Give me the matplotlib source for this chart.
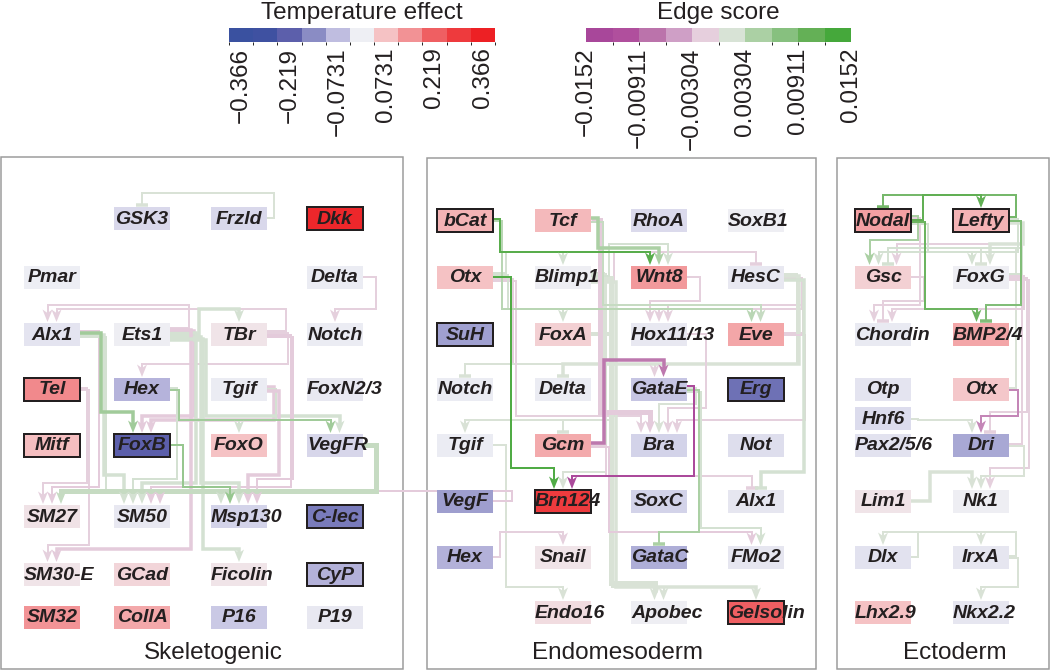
import numpy as np
import matplotlib
matplotlib.use("Agg")
import matplotlib.pyplot as plt
from collections import defaultdict
from matplotlib.colors import ListedColormap, BoundaryNorm, LinearSegmentedColormap, Normalize
from matplotlib.cm import ScalarMappable
from matplotlib.patches import Rectangle, Polygon

plt.rcParams["font.family"] = ["Liberation Sans", "DejaVu Sans"]

# ---- colour scales ----
temp_colors = ["#3a51a0", "#3f51a1", "#5c5fab", "#8a8cc4", "#bfbde0", "#eeeff4",
               "#f5c2c4", "#f29295", "#ef5f62", "#ee3a3d", "#ed2024"]
temp_ticks = [-0.366, -0.219, -0.0731, 0.0731, 0.219, 0.366]
temp_labels = ["\u22120.366", "\u22120.219", "\u22120.0731", "0.0731", "0.219", "0.366"]
edge_colors = ["#a8479a", "#b04f9d", "#bb73ab", "#cf9fc6", "#e6cfdd",
               "#d8e3d6", "#abd0a4", "#87c07f", "#64b056", "#45a83b"]
edge_ticks = [-0.0152, -0.00911, -0.00304, 0.00304, 0.00911, 0.0152]
edge_labels = ["\u22120.0152", "\u22120.00911", "\u22120.00304", "0.00304", "0.00911", "0.0152"]

# ---- nodes (temperature effect) ----
sk_nodes = ["GSK3", "Frzld", "Dkk", "Pmar", "Delta", "Alx1", "Ets1", "TBr", "Notch",
            "Tel", "Hex", "Tgif", "FoxN2/3", "Mitf", "FoxB", "FoxO", "VegFR",
            "SM27", "SM50", "Msp130", "C-lec", "SM30-E", "GCad", "Ficolin", "CyP",
            "SM32", "CollA", "P16", "P19"]
sk_temp = [-0.035, -0.035, 0.38, -0.002, -0.005, -0.018, 0.002, 0.02, -0.005,
           0.175, -0.095, -0.006, -0.012, 0.085, -0.24, 0.08, -0.04,
           0.025, -0.012, -0.045, -0.19, 0.02, 0.045, 0.02, -0.10,
           0.16, 0.125, -0.062, -0.012]
sk_boxed = ["Dkk", "Tel", "Mitf", "FoxB", "C-lec", "CyP"]

en_nodes = ["bCat", "Tcf", "RhoA", "SoxB1", "Otx", "Blimp1", "Wnt8", "HesC",
            "SuH", "FoxA", "Hox11/13", "Eve", "Notch", "Delta", "GataE", "Erg",
            "Tgif", "Gcm", "Bra", "Not", "VegF", "Brn124", "SoxC", "Alx1",
            "Hex", "Snail", "GataC", "FMo2", "Endo16", "Apobec", "Gelsolin"]
en_temp = [0.104, 0.097, -0.032, 0.0, 0.08, 0.0, 0.149, -0.01,
           -0.128, 0.055, -0.012, 0.127, -0.005, -0.005, -0.067, -0.21,
           -0.005, 0.12, -0.044, -0.028, -0.13, 0.32, -0.044, -0.014,
           -0.10, 0.02, -0.106, -0.014, 0.032, 0.003, 0.24]
en_boxed = ["bCat", "SuH", "Erg", "Brn124", "Gelsolin"]

ec_nodes = ["Nodal", "Lefty", "Gsc", "FoxG", "Chordin", "BMP2/4", "Otp", "Otx",
            "Hnf6", "Pax2/5/6", "Dri", "Lim1", "Nk1", "Dlx", "IrxA", "Lhx2.9", "Nkx2.2"]
ec_temp = [0.137, 0.104, 0.055, 0.003, -0.008, 0.127, -0.018, 0.07,
           -0.03, -0.02, -0.115, 0.02, 0.003, -0.02, -0.015, 0.08, -0.015]
ec_boxed = ["Nodal", "Lefty"]

# ---- edges (edge score, + activation / - repression, weight) ----
sk_src = ["Frzld", "Delta", "Ets1", "Ets1", "TBr", "TBr", "Alx1", "Ets1", "Tgif", "Tgif",
          "Hex", "Ets1", "Alx1", "Tel", "VegFR", "Alx1", "Ets1", "Hex", "TBr", "E:VegF",
          "Alx1", "Tgif", "Ets1", "FoxB", "TBr", "Tel", "Ets1", "Ets1"]
sk_dst = ["GSK3", "Notch", "TBr", "Alx1", "Alx1", "Hex", "FoxB", "FoxB", "FoxB", "FoxO",
          "VegFR", "VegFR", "SM27", "SM27", "SM27", "SM50", "SM50", "SM50", "SM50", "SM50",
          "Msp130", "Msp130", "Msp130", "Msp130", "Msp130", "SM30-E", "SM30-E", "Ficolin"]
sk_score = [0.0015, -0.0015, 0.002, -0.0015, -0.0015, -0.0015, 0.006, -0.002, -0.002, 0.002,
            0.006, 0.002, -0.002, -0.0015, 0.003, 0.002, 0.002, 0.002, -0.002, -0.002,
            0.002, -0.002, 0.002, 0.007, -0.002, -0.0015, -0.002, 0.002]
sk_kind = ["-", "+", "+", "+", "+", "+", "+", "+", "+", "+",
           "+", "+", "+", "+", "+", "+", "+", "+", "+", "+",
           "+", "+", "+", "+", "+", "+", "+", "+"]
sk_weight = [1, 1, 2, 1, 1, 1, 2, 2, 2, 1,
             1, 2, 1, 1, 3, 2, 2, 1, 1, 1,
             1, 2, 2, 1, 1, 1, 2, 2]

en_src = ["bCat", "Tcf", "Blimp1", "bCat", "Tcf", "Otx", "Blimp1", "Otx", "Wnt8", "Eve",
          "HesC", "Otx", "Gcm", "HesC", "HesC", "FoxA", "HesC", "Blimp1", "Otx", "GataE",
          "Blimp1", "Otx", "Hox11/13", "GataE", "Eve", "Gcm", "Gcm", "GataE", "GataE", "Tgif",
          "Hex", "Blimp1", "FoxA", "Blimp1", "Tcf"]
en_dst = ["Wnt8", "Wnt8", "Wnt8", "Eve", "Eve", "Blimp1", "HesC", "FoxA", "Hox11/13", "Hox11/13",
          "Hox11/13", "GataE", "GataE", "Delta", "Notch", "Gcm", "Alx1", "Tgif", "Brn124", "Brn124",
          "Brn124", "Bra", "Bra", "Bra", "Bra", "Alx1", "FMo2", "FMo2", "GataC", "Endo16",
          "Snail", "Apobec", "Apobec", "Gelsolin", "Bra"]
en_score = [0.013, 0.005, 0.002, 0.004, 0.003, 0.002, -0.0015, 0.002, -0.0015, -0.0015,
            -0.0015, -0.0015, -0.008, 0.0015, 0.0015, 0.0015, 0.002, 0.0015, 0.014, -0.014,
            0.0015, -0.0015, -0.0015, 0.0015, -0.0015, -0.0015, -0.002, 0.002, 0.005, 0.0015,
            -0.0015, 0.0015, 0.0015, 0.0015, -0.002]
en_kind = ["+", "+", "+", "+", "+", "+", "-", "+", "+", "+",
           "+", "+", "+", "-", "-", "-", "-", "+", "+", "+",
           "+", "+", "+", "+", "+", "-", "+", "+", "-", "+",
           "+", "+", "+", "+", "+"]
en_weight = [1, 2, 1, 1, 1, 1, 1, 1, 1, 1,
             1, 1, 2, 2, 1, 1, 2, 1, 1, 1,
             1, 1, 1, 1, 1, 1, 1, 1, 1, 1,
             1, 3, 1, 2, 3]

ec_src = ["Nodal", "Lefty", "Nodal", "Lefty", "Nodal", "Lefty", "FoxG", "Dri", "Nodal", "Lefty",
          "Otx", "Nodal", "FoxG", "Gsc", "Hnf6", "Otx", "FoxG", "Lim1", "FoxG", "Dri",
          "IrxA", "Dlx", "IrxA"]
ec_dst = ["Lefty", "Nodal", "BMP2/4", "BMP2/4", "Gsc", "Gsc", "Gsc", "Gsc", "FoxG", "FoxG",
          "FoxG", "Chordin", "Chordin", "Chordin", "Dri", "Dri", "Dri", "Nk1", "Nk1", "Nk1",
          "Dlx", "IrxA", "Nkx2.2"]
ec_score = [0.012, 0.010, 0.011, 0.009, 0.005, 0.002, 0.002, -0.0015, 0.002, 0.0015,
            0.0015, -0.0015, -0.0015, -0.0015, 0.0015, -0.007, -0.0015, 0.0015, -0.0015, 0.0015,
            0.0015, 0.0015, 0.0015]
ec_kind = ["+", "-", "+", "-", "+", "+", "-", "+", "+", "+",
           "-", "+", "+", "-", "+", "+", "-", "+", "+", "+",
           "+", "+", "+"]
ec_weight = [1, 1, 1, 1, 1, 1, 1, 1, 1, 2,
             1, 1, 1, 1, 1, 1, 1, 2, 1, 1,
             1, 1, 1]

# ---- layout (grid slots per panel) ----
sk_grid = [(1, 0), (2, 0), (3, 0), (0, 1), (3, 1), (0, 2), (1, 2), (2, 2), (3, 2),
           (0, 3), (1, 3), (2, 3), (3, 3), (0, 4), (1, 4), (2, 4), (3, 4),
           (0, 5), (1, 5), (2, 5), (3, 5), (0, 6), (1, 6), (2, 6), (3, 6),
           (0, 7), (1, 7), (2, 7), (3, 7)]
en_grid = [(c, r) for r in range(7) for c in range(4)] + [(1, 7), (2, 7), (3, 7)]
ec_grid = [(0, 0), (1, 0), (0, 1), (1, 1), (0, 2), (1, 2), (0, 3), (1, 3),
           (0, 3.53), (0, 4), (1, 4), (0, 5), (1, 5), (0, 6), (1, 6), (0, 7), (1, 7)]

panels = {
    "S": dict(nodes=sk_nodes, temp=sk_temp, boxed=sk_boxed, grid=sk_grid,
              frame=(1, 157, 403, 669), cols=[52, 142, 239, 335],
              rows=[218, 277, 334, 389, 445, 516, 574, 617], title="Skeletogenic", tx=213),
    "E": dict(nodes=en_nodes, temp=en_temp, boxed=en_boxed, grid=en_grid,
              frame=(427, 158, 816, 669), cols=[465, 563, 659, 756],
              rows=[220, 277, 334, 389, 445, 501, 557, 612], title="Endomesoderm", tx=618),
    "X": dict(nodes=ec_nodes, temp=ec_temp, boxed=ec_boxed, grid=ec_grid,
              frame=(837, 158, 1049, 669), cols=[883, 981],
              rows=[220, 277, 334, 389, 445, 501, 557, 612], title="Ectoderm", tx=955),
}

W, H = 1050, 671
BW, BH = 56, 23
PX = 0.72  # points per pixel at 100 dpi
INK = "#231f20"

fig = plt.figure(figsize=(W / 100, H / 100), dpi=100)
ax = fig.add_axes([0, 0, 1, 1])
ax.set_xlim(0, W)
ax.set_ylim(H, 0)
ax.axis("off")

cmap_t = LinearSegmentedColormap.from_list("temp", temp_colors)
norm_t = Normalize(-0.402, 0.402)
cmap_e = LinearSegmentedColormap.from_list("edge", edge_colors)
norm_e = Normalize(-0.0152, 0.0152)

# node positions
pos = {}
for key, p in panels.items():
    for name, (c, r) in zip(p["nodes"], p["grid"]):
        y = np.interp(r, np.arange(len(p["rows"])), p["rows"])
        pos[key + ":" + name] = (p["cols"][c], y, r)

# panels and titles
for key, p in panels.items():
    x0, y0, x1, y1 = p["frame"]
    ax.add_patch(Rectangle((x0, y0), x1 - x0, y1 - y0, fill=False,
                           ec="#9a9a9a", lw=1.5 * PX, zorder=1))
    ax.text(p["tx"], 659, p["title"], ha="center", va="baseline",
            fontsize=17.5, color=INK)

# ---- edges ----
def full(panel, names):
    return [n if ":" in n else panel + ":" + n for n in names]

edge_src = full("S", sk_src) + full("E", en_src) + full("X", ec_src)
edge_dst = full("S", sk_dst) + full("E", en_dst) + full("X", ec_dst)
edge_score = sk_score + en_score + ec_score
edge_kind = sk_kind + en_kind + ec_kind
edge_weight = sk_weight + en_weight + ec_weight
n_e = len(edge_src)

chan = np.zeros(n_e)
ys = np.zeros(n_e)
out_idx = defaultdict(list)
for i, s in enumerate(edge_src):
    out_idx[s].append(i)
for s, idx in out_idx.items():
    cx, cy, r = pos[s]
    base = cx + BW / 2 + 7 + 6 * (int(r) % 3)
    idx = sorted(idx, key=lambda i: pos[edge_dst[i]][0])
    n = len(idx)
    for k, i in enumerate(idx):
        chan[i] = base + 2.4 * k
        ys[i] = cy + (k - (n - 1) / 2) * 1.8

xa = np.zeros(n_e)
lev = np.zeros(n_e)
in_idx = defaultdict(list)
for i, d in enumerate(edge_dst):
    in_idx[d].append(i)
for d, idx in in_idx.items():
    cx, cy, r = pos[d]
    idx = sorted(idx, key=lambda i: chan[i])
    n = len(idx)
    for j, i in enumerate(idx):
        xa[i] = cx + (j - (n - 1) / 2) * 9
    order = sorted(idx, key=lambda i: -abs(chan[i] - xa[i]))
    for j, i in enumerate(order):
        lev[i] = cy - BH / 2 - 14 - 4 * j

for i in sorted(range(n_e), key=lambda i: abs(edge_score[i])):
    col = cmap_e(norm_e(edge_score[i]))
    sx, sy, _ = pos[edge_src[i]]
    tx, ty, _ = pos[edge_dst[i]]
    top = ty - BH / 2
    end = top - 9 if edge_kind[i] == "+" else top - 2
    px = [sx + BW / 2, chan[i], chan[i], xa[i], xa[i]]
    py = [ys[i], ys[i], lev[i], lev[i], end]
    lw = {1: 2.0, 2: 3.5, 3: 5.0}[edge_weight[i]] * PX
    ax.plot(px, py, color=col, lw=lw, solid_joinstyle="miter",
            solid_capstyle="butt", zorder=2)
    if edge_kind[i] == "+":
        head = [(xa[i], top - 0.5), (xa[i] - 5, top - 13), (xa[i], top - 9.5),
                (xa[i] + 5, top - 13)]
        ax.add_patch(Polygon(head, closed=True, fc=col, ec="none", zorder=2.5))
    else:
        ax.plot([xa[i] - 6, xa[i] + 6], [top - 2, top - 2], color=col,
                lw=3.5 * PX, solid_capstyle="butt", zorder=2.5)

# ---- node boxes ----
renderer = fig.canvas.get_renderer()
for key, p in panels.items():
    for name, t in zip(p["nodes"], p["temp"]):
        cx, cy, _ = pos[key + ":" + name]
        boxed = name in p["boxed"]
        ax.add_patch(Rectangle((cx - BW / 2, cy - BH / 2), BW, BH,
                               fc=cmap_t(norm_t(t)),
                               ec=INK if boxed else "none",
                               lw=2.0 * PX if boxed else 0, zorder=3))
        txt = ax.text(cx, cy + 1, name, ha="center", va="center", fontsize=14,
                      fontweight="bold", fontstyle="italic", color=INK, zorder=4)
        if txt.get_window_extent(renderer).width > BW:
            txt.set_ha("left")
            txt.set_x(cx - BW / 2)

# ---- colour bars ----
def add_bar(x0, x1, colors, bounds, ticks, labels, title):
    cax = fig.add_axes([x0 / W, 1 - 42 / H, (x1 - x0) / W, 14 / H])
    cmap = ListedColormap(colors)
    norm = BoundaryNorm(bounds, cmap.N)
    cb = fig.colorbar(ScalarMappable(norm=norm, cmap=cmap), cax=cax,
                      orientation="horizontal")
    cb.outline.set_visible(False)
    cb.set_ticks(ticks)
    cb.set_ticklabels(labels)
    cax.tick_params(length=0, pad=4, labelsize=17.5, labelrotation=90, colors=INK)
    ax.text((x0 + x1) / 2, 19, title, ha="center", va="baseline",
            fontsize=17.5, color=INK)

add_bar(229, 495, temp_colors, np.linspace(-0.402, 0.402, 12),
        temp_ticks, temp_labels, "Temperature effect")
add_bar(586, 851, edge_colors, np.linspace(-0.0152, 0.0152, 11),
        edge_ticks, edge_labels, "Edge score")

fig.savefig("out.png", dpi=100)
plt.close()
